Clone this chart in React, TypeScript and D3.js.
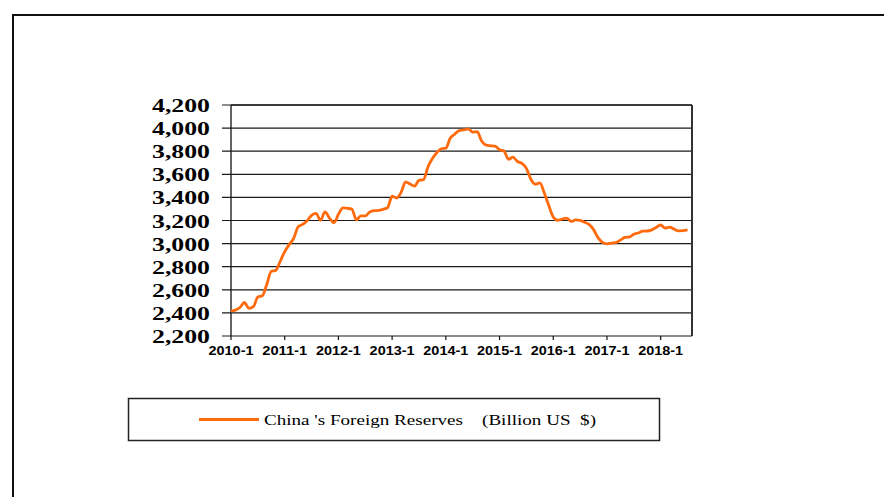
import React from 'react';
import * as d3 from 'd3';

// China FX reserves, billion US$, monthly from 2010-1 to 2018-7
const reserves2010 = [2415, 2424, 2447, 2490, 2440, 2454, 2538, 2548, 2648, 2760, 2768, 2847];
const reserves2011 = [2931, 2991, 3045, 3145, 3166, 3198, 3245, 3262, 3202, 3274, 3221, 3181];
const reserves2012 = [3254, 3309, 3305, 3299, 3206, 3240, 3240, 3273, 3285, 3287, 3297, 3312];
const reserves2013 = [3410, 3395, 3443, 3535, 3515, 3497, 3548, 3553, 3663, 3736, 3789, 3821];
const reserves2014 = [3827, 3914, 3948, 3979, 3984, 3993, 3966, 3969, 3888, 3853, 3847, 3843];
const reserves2015 = [3813, 3802, 3730, 3748, 3711, 3694, 3651, 3557, 3514, 3525, 3438, 3330];
const reserves2016 = [3231, 3202, 3213, 3220, 3192, 3205, 3201, 3185, 3166, 3121, 3052, 3011];
const reserves2017 = [2998, 3005, 3009, 3030, 3054, 3057, 3081, 3092, 3108, 3109, 3119, 3140];
const reserves2018 = [3161, 3134, 3143, 3125, 3111, 3112, 3118];

const series = [
  ...reserves2010, ...reserves2011, ...reserves2012, ...reserves2013, ...reserves2014,
  ...reserves2015, ...reserves2016, ...reserves2017, ...reserves2018,
];

const yearLabels = ['2010-1', '2011-1', '2012-1', '2013-1', '2014-1', '2015-1', '2016-1', '2017-1', '2018-1'];
const yTicks = [2200, 2400, 2600, 2800, 3000, 3200, 3400, 3600, 3800, 4000, 4200];
const legendLabel = "China 's Foreign Reserves    (Billion US  $)";

const W = 884;
const H = 497;
const plot = { left: 231, right: 692, top: 105, bottom: 336 };

export default function App() {
  const x = d3.scaleLinear().domain([0, 103]).range([plot.left, plot.right]);
  const y = d3.scaleLinear().domain([2200, 4200]).range([plot.bottom, plot.top]);

  const line = d3.line<number>()
    .x((d, i) => x(i))
    .y(d => y(d))
    .curve(d3.curveMonotoneX);

  const fmt = d3.format(',');

  return (
    <svg width={W} height={H} style={{ position: 'absolute', left: 0, top: 0, background: '#fff' }}>
      {/* outer frame, cut off at right and bottom */}
      <path d={`M13,${H + 2} V15 H${W + 2}`} fill="none" stroke="#111" strokeWidth={2} />

      {/* gridlines + left ticks */}
      {yTicks.map(t => (
        <g key={t}>
          <line x1={plot.left - 9} x2={plot.right} y1={y(t)} y2={y(t)} stroke="#1a1a1a" strokeWidth={1.2} />
          <text
            x={210}
            y={y(t) + 7}
            textAnchor="end"
            fontFamily="'Liberation Serif', 'Times New Roman', serif"
            fontWeight="bold"
            fontSize={19}
            textLength={58}
            lengthAdjust="spacingAndGlyphs"
          >
            {fmt(t)}
          </text>
        </g>
      ))}

      {/* axes frame */}
      <line x1={plot.left} x2={plot.left} y1={plot.top} y2={plot.bottom} stroke="#111" strokeWidth={1.3} />
      <line x1={plot.right} x2={plot.right} y1={plot.top} y2={plot.bottom} stroke="#333" strokeWidth={2} />
      <line x1={plot.left} x2={plot.right} y1={plot.top} y2={plot.top} stroke="#222" strokeWidth={1.5} />

      {/* x ticks and labels */}
      {yearLabels.map((lab, i) => (
        <g key={lab}>
          <line x1={x(i * 12)} x2={x(i * 12)} y1={plot.bottom} y2={plot.bottom + 4} stroke="#111" strokeWidth={1.2} />
          <text
            x={x(i * 12)}
            y={355}
            textAnchor="middle"
            fontFamily="'Liberation Sans', Arial, sans-serif"
            fontWeight="bold"
            fontSize={12}
            textLength={45}
            lengthAdjust="spacingAndGlyphs"
          >
            {lab}
          </text>
        </g>
      ))}

      {/* series */}
      <path d={line(series) || ''} fill="none" stroke="#FF6A0D" strokeWidth={2.8} strokeLinejoin="round" />

      {/* legend */}
      <rect x={128.5} y={398.5} width={531} height={42} fill="#fff" stroke="#222" strokeWidth={1.5} />
      <line x1={199} x2={259} y1={419.5} y2={419.5} stroke="#FF6A0D" strokeWidth={2.8} />
      <text
        x={264}
        y={425}
        fontFamily="'Liberation Serif', 'Times New Roman', serif"
        fontSize={15.5}
        textLength={332}
        lengthAdjust="spacingAndGlyphs"
        style={{ whiteSpace: 'pre' }}
      >
        {legendLabel}
      </text>
    </svg>
  );
}
